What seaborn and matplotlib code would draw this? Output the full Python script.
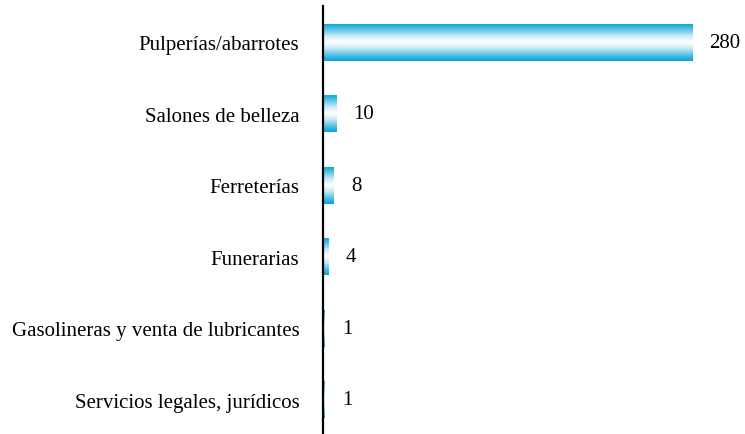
import matplotlib
matplotlib.use("Agg")
import matplotlib.pyplot as plt
from matplotlib.colors import LinearSegmentedColormap
import seaborn as sns
import numpy as np

categories = [
    "Pulperías/abarrotes",
    "Salones de belleza",
    "Ferreterías",
    "Funerarias",
    "Gasolineras y venta de lubricantes",
    "Servicios legales, jurídicos",
]
counts = [280, 10, 8, 4, 1, 1]

sns.set_style("white")
plt.rcParams["font.family"] = ["Liberation Serif", "DejaVu Serif"]

fig = plt.figure(figsize=(7.45, 4.35), dpi=100)
ax = fig.add_axes([323 / 745, 0, 422 / 745, 428 / 435])

sns.barplot(x=counts, y=categories, orient="h", width=0.52,
            color="#00a3d6", ax=ax)

# vertical cyan -> white -> cyan fill, clipped to each bar
cmap = LinearSegmentedColormap.from_list(
    "bar", ["#ffffff", "#c6e9f5", "#5cc2e6", "#00a3d6"])
grad = np.abs(np.linspace(-1, 1, 200)).reshape(-1, 1)
for p in ax.patches:
    x0, y0 = p.get_x(), p.get_y()
    w, h = p.get_width(), p.get_height()
    if w <= 0:
        continue
    p.set_facecolor("none")
    p.set_edgecolor("none")
    im = ax.imshow(grad, cmap=cmap, aspect="auto", interpolation="bicubic",
                   extent=(x0, x0 + w, y0 + h, y0), zorder=2)
    im.set_clip_path(p)

for i, v in enumerate(counts):
    ax.annotate(str(v), xy=(v, i), xytext=(12.5, 0), textcoords="offset points",
                ha="left", va="center", fontsize=15, color="black")

ax.set_xlim(0, 320)
ax.set_ylim(5.48, -0.51)
ax.set_xlabel("")
ax.set_ylabel("")
ax.xaxis.set_visible(False)
ax.tick_params(axis="y", length=0, pad=17, labelsize=15, labelcolor="black")
for s in ["top", "right", "bottom"]:
    ax.spines[s].set_visible(False)
ax.spines["left"].set_color("black")
ax.spines["left"].set_linewidth(1.6)
ax.spines["left"].set_zorder(3)

fig.savefig("out.png", dpi=100)
plt.close(fig)
